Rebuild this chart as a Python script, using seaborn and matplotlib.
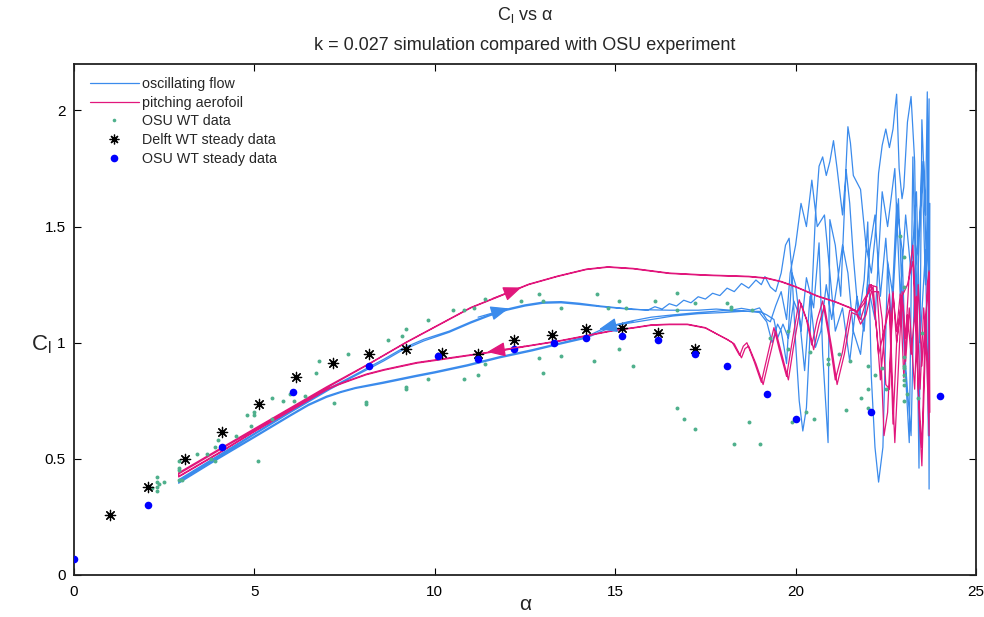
import matplotlib
matplotlib.use("Agg")
import matplotlib.pyplot as plt
import seaborn as sns
import pandas as pd
from matplotlib.lines import Line2D

# ---------------- data ----------------
osu_steady_alpha = [0.0, 2.05, 4.1, 6.07, 8.18, 10.09, 11.2, 12.2, 13.3, 14.2, 15.2, 16.2, 17.2, 18.1, 19.2, 20.0, 22.1, 24.0]
osu_steady_cl = [0.07, 0.30, 0.55, 0.79, 0.90, 0.944, 0.93, 0.974, 1.0, 1.02, 1.03, 1.013, 0.952, 0.90, 0.78, 0.67, 0.70, 0.77]

delft_alpha = [1.0, 2.05, 3.08, 4.1, 5.13, 6.15, 7.18, 8.18, 9.2, 10.2, 11.2, 12.2, 13.25, 14.2, 15.2, 16.2, 17.2]
delft_cl = [0.259, 0.38, 0.50, 0.617, 0.737, 0.853, 0.914, 0.953, 0.974, 0.957, 0.953, 1.01, 1.034, 1.06, 1.065, 1.043, 0.974]

osu_alpha = [2.3, 2.3, 2.3, 2.3, 2.15, 2.35, 2.5, 2.9, 2.9, 2.9, 2.9, 3.0, 3.4, 3.7, 3.8, 3.9, 3.9, 4.0, 4.5, 4.8,
             4.9, 5.0, 5.0, 5.1, 5.5, 5.5, 5.8, 6.0, 6.1, 6.4, 6.7, 6.8, 7.2, 7.6, 8.1, 8.1, 8.7, 9.1, 9.2, 9.2,
             9.2, 9.8, 9.8, 10.5, 10.8, 10.8, 11.1, 11.2, 11.4, 11.4, 12.4, 12.9, 12.9, 13.0, 13.5, 13.5, 13.0, 14.4, 14.5, 14.8,
             15.1, 15.1, 15.3, 15.5, 16.1, 16.7, 16.7, 17.2, 18.1, 18.2, 18.2, 18.8, 16.7, 16.9, 17.2, 18.3, 18.7, 19.0, 19.3, 19.8,
             19.8, 19.9, 20.3, 20.5, 20.4, 20.9, 20.9, 21.2, 21.4, 21.5, 21.8, 22.0, 22.0, 22.0, 22.2, 22.4, 22.5, 23.0, 23.0, 23.0,
             23.0, 23.0, 23.0, 23.0, 23.1, 23.0, 23.0, 22.9, 23.4, 23.5]
osu_cl = [0.36, 0.38, 0.40, 0.42, 0.375, 0.39, 0.40, 0.49, 0.46, 0.45, 0.41, 0.41, 0.52, 0.52, 0.50, 0.49, 0.55, 0.58, 0.60, 0.69,
          0.64, 0.70, 0.69, 0.49, 0.76, 0.67, 0.75, 0.78, 0.75, 0.77, 0.87, 0.92, 0.74, 0.95, 0.746, 0.735, 1.01, 1.03, 1.06, 0.81,
          0.80, 1.10, 0.845, 1.14, 1.14, 0.845, 1.15, 0.86, 1.19, 0.91, 1.18, 0.935, 1.21, 1.18, 1.15, 0.944, 0.87, 0.92, 1.21, 1.15,
          1.18, 0.974, 1.15, 0.90, 1.18, 1.215, 1.14, 1.17, 1.17, 1.155, 1.145, 1.14, 0.72, 0.67, 0.63, 0.565, 0.66, 0.565, 1.02, 1.05,
          0.974, 0.66, 0.70, 0.67, 0.96, 0.93, 0.91, 0.95, 0.71, 0.92, 0.76, 0.90, 0.80, 0.72, 0.86, 0.89, 0.80, 0.94, 0.90, 0.89,
          0.86, 0.84, 0.82, 0.75, 0.78, 1.37, 1.24, 1.46, 0.76, 1.04]

# oscillating flow simulation (blue), traced in order
blue_up1_a = [2.9, 4.0, 5.0, 6.0, 7.1, 7.7, 8.2, 8.6, 9.1, 9.7, 10.4, 11.0, 11.5, 12.0, 12.5, 13.0, 13.5, 14.0, 14.6, 15.1,
              15.5, 15.9, 16.1, 16.3, 16.5, 16.7, 16.9, 17.1, 17.3, 17.5, 17.7, 17.9, 18.1, 18.3, 18.5, 18.7, 18.9, 19.05, 19.15, 19.3,
              19.45, 19.6, 19.72, 19.82, 19.9, 20.0, 20.1, 20.2, 20.3, 20.42, 20.55, 20.65, 20.75, 20.85, 20.95, 21.05, 21.15, 21.3, 21.38, 21.45,
              21.52, 21.6, 21.8, 21.95, 22.1, 22.2, 22.3, 22.4, 22.5, 22.6, 22.7, 22.75, 22.8, 22.87, 22.95, 23.0, 23.1, 23.2, 23.3, 23.42,
              23.5, 23.6, 23.65, 23.7, 23.72]
blue_up1_c = [0.41, 0.515, 0.61, 0.705, 0.806, 0.855, 0.897, 0.93, 0.975, 1.015, 1.05, 1.09, 1.12, 1.145, 1.163, 1.175, 1.177, 1.17, 1.158, 1.15,
              1.145, 1.14, 1.155, 1.145, 1.168, 1.158, 1.183, 1.172, 1.198, 1.188, 1.213, 1.203, 1.235, 1.22, 1.255, 1.235, 1.27, 1.25, 1.285, 1.24,
              1.22, 1.30, 1.42, 1.45, 1.30, 1.0, 0.75, 0.62, 0.72, 1.10, 1.55, 1.76, 1.80, 1.72, 1.78, 1.87, 1.75, 1.55, 1.70, 1.93,
              1.86, 1.72, 1.66, 1.42, 1.30, 1.45, 1.73, 1.85, 1.92, 1.84, 1.92, 2.00, 2.07, 1.75, 1.62, 1.67, 1.95, 2.06, 1.78, 0.46,
              1.96, 1.55, 2.08, 0.37, 1.6]
blue_down1_a = [23.6, 23.5, 23.35, 23.25, 23.15, 23.0, 22.85, 22.7, 22.55, 22.42, 22.3, 22.2, 22.1, 22.0, 21.9, 21.75, 21.6, 21.5, 21.4, 21.25,
                21.1, 20.95, 20.92, 20.9, 20.85, 20.75, 20.65, 20.5, 20.3, 20.15, 20.0, 19.9, 19.8, 19.75, 19.68, 19.6, 19.5, 19.35, 19.2, 19.0,
                18.5, 18.0, 17.3, 16.6, 16.0, 15.5, 14.8, 14.2, 13.5, 12.7, 11.8, 10.9, 10.0, 9.5, 8.56, 7.8, 7.4, 7.0, 6.5, 6.0,
                5.0, 4.0, 2.9]
blue_down1_c = [1.25, 1.78, 1.10, 1.80, 0.57, 1.0, 1.62, 1.20, 1.35, 0.55, 0.40, 0.55, 0.85, 1.52, 1.27, 1.10, 1.37, 1.60, 1.745, 1.20,
                1.42, 1.53, 1.0, 0.57, 0.70, 0.95, 1.43, 1.15, 1.28, 1.05, 1.25, 1.30, 1.05, 0.91, 0.98, 1.05, 1.08, 1.0, 1.09, 1.13,
                1.138, 1.138, 1.13, 1.12, 1.11, 1.095, 1.07, 1.026, 1.0, 0.97, 0.94, 0.905, 0.875, 0.86, 0.83, 0.807, 0.79, 0.77, 0.735, 0.69,
                0.597, 0.505, 0.40]
blue_up2_a = [2.9, 4.0, 5.0, 6.0, 7.1, 7.7, 8.2, 8.6, 9.1, 9.7, 10.4, 11.0, 11.5, 12.0, 12.5, 13.0, 13.5, 14.0, 14.6, 15.5,
              16.5, 17.3, 17.8, 18.2, 18.5, 18.8, 19.0, 19.2, 19.3, 19.45, 19.6, 19.75, 19.85, 20.0, 20.15, 20.3, 20.45, 20.6, 20.8, 20.95,
              21.1, 21.3, 21.5, 21.7, 21.9, 22.05, 22.2, 22.35, 22.5, 22.65, 22.8, 22.95, 23.05, 23.2, 23.3, 23.4, 23.55, 23.62, 23.7]
blue_up2_c = [0.405, 0.51, 0.605, 0.70, 0.80, 0.85, 0.89, 0.923, 0.968, 1.008, 1.045, 1.085, 1.115, 1.14, 1.158, 1.17, 1.172, 1.165, 1.155, 1.143,
              1.14, 1.14, 1.145, 1.14, 1.148, 1.14, 1.15, 1.10, 1.09, 1.16, 1.22, 1.10, 1.30, 1.42, 1.60, 1.50, 1.70, 1.50, 1.55, 1.30,
              1.05, 1.15, 0.92, 1.20, 1.05, 1.40, 1.55, 1.20, 1.45, 1.10, 1.60, 1.40, 0.90, 0.60, 1.30, 1.45, 1.78, 1.35, 2.05]
blue_down2_a = [23.68, 23.6, 23.45, 23.35, 23.2, 23.05, 22.9, 22.75, 22.55, 22.4, 22.2, 22.0, 21.8, 21.6, 21.45, 21.3, 21.15, 21.0, 20.85, 20.7,
                20.55, 20.4, 20.25, 20.1, 19.95, 19.8, 19.65, 19.5, 19.4, 19.2, 19.0, 18.5, 18.0, 17.3, 16.6, 16.0, 15.0, 14.2, 13.5, 12.7,
                11.8, 10.9, 10.0, 9.5, 8.56, 7.8, 7.4, 7.0, 6.5, 6.0, 5.0, 4.0, 2.9]
blue_down2_c = [0.60, 1.40, 1.0, 1.65, 1.30, 1.55, 1.20, 1.75, 1.50, 1.65, 1.10, 1.25, 0.95, 1.05, 1.30, 1.42, 1.25, 1.10, 1.25, 1.05,
                0.98, 1.20, 0.88, 1.12, 1.18, 1.02, 1.08, 1.02, 1.10, 1.12, 1.135, 1.135, 1.13, 1.125, 1.115, 1.10, 1.075, 1.02, 0.995, 0.965,
                0.935, 0.90, 0.87, 0.855, 0.825, 0.803, 0.786, 0.765, 0.73, 0.685, 0.592, 0.50, 0.395]

# pitching aerofoil simulation (pink), traced in order
pink_up1_a = [2.9, 4.0, 5.0, 6.0, 7.0, 8.2, 9.2, 10.4, 11.0, 11.8, 12.6, 13.4, 14.2, 14.8, 15.5, 16.5, 17.5, 18.7, 19.2, 19.6,
              20.0, 20.3, 20.6, 21.1, 21.5, 21.7, 21.9, 22.1, 22.25, 22.35, 22.5, 22.6, 22.7, 22.75, 22.85, 22.95, 23.05, 23.15, 23.25, 23.35,
              23.42, 23.5, 23.58, 23.65, 23.7, 23.72]
pink_up1_c = [0.435, 0.535, 0.625, 0.715, 0.805, 0.91, 1.00, 1.10, 1.15, 1.20, 1.25, 1.285, 1.315, 1.325, 1.318, 1.298, 1.29, 1.284, 1.277, 1.262,
              1.24, 1.22, 1.20, 1.175, 1.15, 1.13, 1.17, 1.25, 1.05, 0.84, 1.10, 1.21, 0.75, 0.57, 0.9, 1.22, 1.02, 1.30, 1.42, 1.05,
              0.70, 0.47, 0.9, 1.25, 1.31, 0.70]
pink_down1_a = [23.65, 23.55, 23.45, 23.35, 23.2, 23.1, 23.0, 22.9, 22.8, 22.7, 22.55, 22.45, 22.35, 22.25, 22.05, 21.9, 21.8, 21.65, 21.5, 21.3,
                21.1, 20.95, 20.75, 20.6, 20.45, 20.3, 20.1, 19.9, 19.75, 19.55, 19.4, 19.2, 19.05, 18.85, 18.65, 18.55, 18.45, 18.25, 18.1, 17.85,
                17.5, 17.0, 16.5, 16.0, 15.5, 15.0, 14.6, 13.5, 12.5, 11.75, 10.4, 9.5, 8.6, 8.1, 7.65, 7.3, 7.0, 6.0, 5.0, 4.0,
                2.9]
pink_down1_c = [0.95, 1.15, 0.80, 1.20, 0.95, 1.12, 0.85, 1.21, 1.05, 1.21, 0.70, 0.60, 1.0, 1.24, 1.25, 1.15, 1.10, 1.14, 1.14, 0.96,
                0.84, 1.0, 1.18, 1.10, 0.99, 1.10, 1.185, 1.0, 0.855, 0.97, 1.065, 0.93, 0.83, 0.92, 1.0, 0.985, 0.945, 1.0, 1.015, 1.035,
                1.065, 1.08, 1.08, 1.077, 1.065, 1.055, 1.043, 1.01, 0.985, 0.965, 0.935, 0.915, 0.885, 0.865, 0.84, 0.82, 0.80, 0.71, 0.62, 0.525,
                0.425]
pink_up2_a = [2.9, 4.0, 5.0, 6.0, 7.0, 8.2, 9.2, 10.4, 11.0, 11.8, 12.6, 13.4, 14.2, 14.8, 15.5, 16.5, 17.5, 18.7, 19.2, 19.6,
              20.0, 20.3, 20.6, 21.1, 21.5, 21.7, 21.95, 22.15, 22.3, 22.45, 22.6, 22.7, 22.8, 22.95, 23.1, 23.25, 23.4, 23.5, 23.6, 23.7]
pink_up2_c = [0.44, 0.54, 0.63, 0.72, 0.81, 0.912, 1.002, 1.102, 1.152, 1.202, 1.252, 1.287, 1.317, 1.327, 1.32, 1.3, 1.292, 1.286, 1.279, 1.264,
              1.242, 1.222, 1.202, 1.177, 1.152, 1.135, 1.20, 1.24, 0.95, 1.05, 1.15, 0.65, 1.0, 1.20, 1.25, 1.35, 0.80, 0.55, 1.10, 1.30]
pink_down2_a = [23.7, 23.6, 23.5, 23.4, 23.3, 23.15, 23.05, 22.95, 22.8, 22.7, 22.6, 22.5, 22.4, 22.3, 22.1, 21.95, 21.8, 21.7, 21.55, 21.35,
                21.15, 21.0, 20.8, 20.65, 20.5, 20.35, 20.15, 19.95, 19.8, 19.6, 19.45, 19.25, 19.1, 18.9, 18.7, 18.6, 18.5, 18.3, 18.12, 17.87,
                17.5, 17.0, 16.5, 16.0, 15.5, 15.0, 14.6, 13.5, 12.5, 11.75, 10.4, 9.5, 8.6, 8.1, 7.65, 7.3, 7.0, 6.0, 5.0, 4.0,
                2.9]
pink_down2_c = [0.60, 1.10, 0.90, 1.25, 0.80, 1.15, 0.92, 1.20, 1.0, 1.22, 0.80, 0.82, 1.1, 1.22, 1.22, 1.12, 1.08, 1.12, 1.13, 0.95,
                0.82, 0.98, 1.16, 1.08, 0.97, 1.08, 1.17, 0.99, 0.84, 0.96, 1.05, 0.92, 0.82, 0.91, 0.985, 0.975, 0.935, 0.995, 1.012, 1.033,
                1.063, 1.078, 1.078, 1.075, 1.063, 1.053, 1.041, 1.008, 0.983, 0.963, 0.932, 0.912, 0.882, 0.862, 0.837, 0.817, 0.797, 0.707, 0.617, 0.522,
                0.422]

# direction arrows: (tail alpha, tail cl, tip alpha, tip cl)
pink_arrows = [(11.6, 1.19, 12.4, 1.238), (12.5, 0.985, 11.45, 0.96)]
blue_arrows = [(11.2, 1.11, 12.05, 1.148), (15.5, 1.093, 14.55, 1.058)]

x_ticks = [0, 5, 10, 15, 20, 25]
y_ticks = [0, 0.5, 1, 1.5, 2]
y_tick_labels = ["0", "0.5", "1", "1.5", "2"]

BLUE = "#3b8bec"
PINK = "#e1177c"
GREEN = "#4fb08c"

# ---------------- figure ----------------
sns.set_theme(style="white")
plt.rcParams["font.family"] = ["Liberation Sans", "DejaVu Sans"]
plt.rcParams["mathtext.fontset"] = "custom"
plt.rcParams["mathtext.rm"] = "Liberation Sans"
plt.rcParams["mathtext.it"] = "Liberation Sans:italic"

fig = plt.figure(figsize=(9.84, 6.17), dpi=100)
ax = fig.add_axes([74 / 984, 1 - 575 / 617, (976 - 74) / 984, (575 - 64) / 617])


def traces(segs):
    rows = []
    for tid, (a, c) in enumerate(segs):
        for i, (aa, cc) in enumerate(zip(a, c)):
            rows.append({"trace": tid, "order": i, "alpha": aa, "cl": cc})
    return pd.DataFrame(rows)


blue_df = traces([(blue_up1_a + blue_down1_a + blue_up2_a + blue_down2_a,
                   blue_up1_c + blue_down1_c + blue_up2_c + blue_down2_c)])
pink_df = traces([(pink_up1_a + pink_down1_a + pink_up2_a + pink_down2_a,
                   pink_up1_c + pink_down1_c + pink_up2_c + pink_down2_c)])

sns.lineplot(data=blue_df, x="alpha", y="cl", units="trace", estimator=None, sort=False,
             color=BLUE, lw=0.9, ax=ax, legend=False)
sns.lineplot(data=pink_df, x="alpha", y="cl", units="trace", estimator=None, sort=False,
             color=PINK, lw=0.9, ax=ax, legend=False)
for ln in ax.lines:
    ln.set_solid_joinstyle("round")

sns.scatterplot(x=osu_alpha, y=osu_cl, color=GREEN, s=8, linewidth=0, ax=ax, legend=False, zorder=3)
sns.scatterplot(x=delft_alpha, y=delft_cl, marker=(8, 2, 0), color="black", s=55, linewidth=0.9,
                edgecolor="black", ax=ax, legend=False, zorder=4)
sns.scatterplot(x=osu_steady_alpha, y=osu_steady_cl, color="#0000ff", s=30, linewidth=0, ax=ax,
                legend=False, zorder=5)

for col, arrs in ((PINK, pink_arrows), (BLUE, blue_arrows)):
    for ta, tc, ha, hc in arrs:
        ax.annotate("", xy=(ha, hc), xytext=(ta, tc),
                    arrowprops=dict(arrowstyle="-|>,head_length=0.8,head_width=0.32",
                                    color=col, lw=0.9, shrinkA=0, shrinkB=0, mutation_scale=14),
                    zorder=6)

ax.set_xlim(0, 25)
ax.set_ylim(0, 2.2)
ax.set_xticks(x_ticks)
ax.set_xticklabels([str(t) for t in x_ticks])
ax.set_yticks(y_ticks)
ax.set_yticklabels(y_tick_labels)
ax.tick_params(direction="in", top=True, right=True, bottom=True, left=True,
               length=5, width=0.8, colors="black", labelsize=11)
ax.tick_params(axis="x", pad=7)
ax.tick_params(axis="y", pad=6)
for s in ax.spines.values():
    s.set_visible(True)
    s.set_color("#222222")
    s.set_linewidth(1.3)

ax.set_xlabel("α", fontsize=15)
ax.xaxis.label.set_va("center")
ax.xaxis.set_label_coords(0.5, -(604 - 575) / 511)
ax.set_ylabel("C$_\\mathrm{l}$", fontsize=16, rotation=0)
ax.yaxis.label.set_va("center")
ax.yaxis.label.set_ha("center")
ax.yaxis.set_label_coords(-(74 - 41) / 902, (575 - 345) / 511)

fig.text(525 / 984, 1 - 15 / 617, "C$_\\mathrm{l}$ vs α", ha="center", va="center", fontsize=13)
fig.text(525 / 984, 1 - 45 / 617, "k = 0.027 simulation compared with OSU experiment",
         ha="center", va="center", fontsize=13)

handles = [
    Line2D([], [], color=BLUE, lw=0.9),
    Line2D([], [], color=PINK, lw=0.9),
    Line2D([], [], color=GREEN, marker="o", ls="", ms=2.6, mew=0),
    Line2D([], [], color="black", marker=(8, 2, 0), ls="", ms=7, mew=0.9),
    Line2D([], [], color="#0000ff", marker="o", ls="", ms=5.5, mew=0),
]
labels = ["oscillating flow", "pitching aerofoil", "OSU WT data", "Delft WT steady data", "OSU WT steady data"]
ax.legend(handles, labels, loc="upper left", bbox_to_anchor=(90 / 984, 1 - 77 / 617),
          bbox_transform=fig.transFigure, frameon=False, fontsize=10.3, handlelength=3.4,
          handletextpad=0.25, labelspacing=0.33, borderpad=0, borderaxespad=0, numpoints=1)

fig.savefig("out.png", dpi=100)
